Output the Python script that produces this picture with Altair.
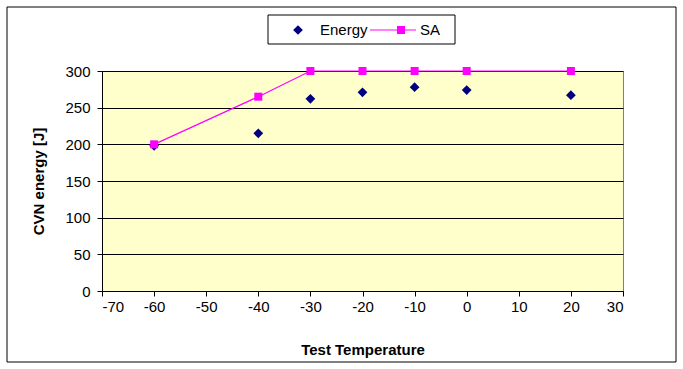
import altair as alt
import pandas as pd

temps = [-60, -40, -30, -20, -10, 0, 20]
energy = [198, 215, 262, 271, 278, 274, 267]
sa = [80, 93, 100, 100, 100, 100, 100]
series_names = ["Energy", "SA"]

df = pd.DataFrame({"T": temps, "Energy": energy, "SA": sa})

FONT = "Liberation Sans"
W, H = 521, 220
LFS = 15

xscale = alt.Scale(domain=[-70, 30], nice=False, zero=False)
xaxis = alt.Axis(values=list(range(-70, 31, 10)), title="Test Temperature",
                 labelExpr="'' + datum.value",
                 grid=False, domainColor="black", tickColor="black", tickSize=5,
                 labelFont=FONT, labelFontSize=LFS, labelColor="black", labelPadding=3,
                 titleFont=FONT, titleFontSize=15, titleFontWeight="bold",
                 titleColor="black", titlePadding=28)

base = alt.Chart(df)

energy_pts = base.mark_point(shape="diamond", filled=True, color="#000080",
                             size=95, opacity=1).encode(
    x=alt.X("T:Q", scale=xscale, axis=xaxis),
    y=alt.Y("Energy:Q", scale=alt.Scale(domain=[0, 300], nice=False),
            axis=alt.Axis(values=list(range(0, 301, 50)), title="CVN energy [J]",
                          grid=True, gridColor="#000000", gridWidth=1,
                          domainColor="black", tickColor="black", tickSize=5,
                          labelFont=FONT, labelFontSize=LFS, labelColor="black",
                          labelPadding=7, titleFont=FONT, titleFontSize=15,
                          titleFontWeight="bold", titleColor="black",
                          titlePadding=18)),
)

sa_scale = alt.Scale(domain=[40, 100], nice=False, zero=False)
right_y = alt.Y("SA:Q", scale=sa_scale,
                axis=alt.Axis(orient="right", values=list(range(40, 101, 10)),
                              title=None, grid=False, domainColor="black",
                              tickColor="black", tickSize=5, labelFont=FONT,
                              labelFontSize=LFS, labelColor="black", labelPadding=9))

sa_line = base.mark_line(color="#FF00FF", strokeWidth=1.2).encode(
    x=alt.X("T:Q", scale=xscale), y=right_y)
sa_pts = base.mark_point(shape="square", filled=True, color="#FF00FF",
                         size=64, opacity=1).encode(
    x=alt.X("T:Q", scale=xscale), y=alt.Y("SA:Q", scale=sa_scale, axis=None))

right_layer = alt.layer(sa_line, sa_pts)

# Legend (manual)
leg_df = pd.DataFrame({"name": series_names})
leg_box = alt.Chart(leg_df.head(1)).mark_rect(fill="white", stroke="black",
                                              strokeWidth=1, clip=False).encode(
    x=alt.value(166), x2=alt.value(353), y=alt.value(-56), y2=alt.value(-27))
leg_diamond = alt.Chart(leg_df.head(1)).mark_point(shape="diamond", filled=True,
                                                   color="#000080", size=95,
                                                   opacity=1, clip=False).encode(
    x=alt.value(196), y=alt.value(-41))
leg_text1 = alt.Chart(leg_df.head(1)).mark_text(font=FONT, fontSize=15, align="left",
                                                baseline="middle", color="black",
                                                clip=False).encode(
    x=alt.value(218), y=alt.value(-41), text="name:N")
leg_line = alt.Chart(leg_df.head(1)).mark_rule(color="#FF00FF", strokeWidth=1.2,
                                               clip=False).encode(
    x=alt.value(268), x2=alt.value(314), y=alt.value(-41))
leg_square = alt.Chart(leg_df.head(1)).mark_point(shape="square", filled=True,
                                                  color="#FF00FF", size=64,
                                                  opacity=1, clip=False).encode(
    x=alt.value(299), y=alt.value(-41))
leg_text2 = alt.Chart(leg_df.tail(1)).mark_text(font=FONT, fontSize=15, align="left",
                                                baseline="middle", color="black",
                                                clip=False).encode(
    x=alt.value(318), y=alt.value(-41), text="name:N")

border = alt.Chart(leg_df.head(1)).mark_rect(fill=None, stroke="black",
                                             strokeWidth=1, clip=False).encode(
    x=alt.value(-95), x2=alt.value(574), y=alt.value(-64), y2=alt.value(291))

legend = alt.layer(border, leg_box, leg_line, leg_diamond, leg_square, leg_text1, leg_text2)

chart = alt.layer(energy_pts, right_layer, legend).resolve_scale(
    y="independent"
).properties(
    width=W, height=H,
    autosize=alt.AutoSizeParams(type="none"),
    padding={"left": 102, "top": 71, "right": 60, "bottom": 78},
    background="white",
).configure_view(
    fill="#FFFFCC", stroke="#808080", strokeWidth=1
)

chart.save("out.html", embed_options={"renderer": "svg", "actions": False})
